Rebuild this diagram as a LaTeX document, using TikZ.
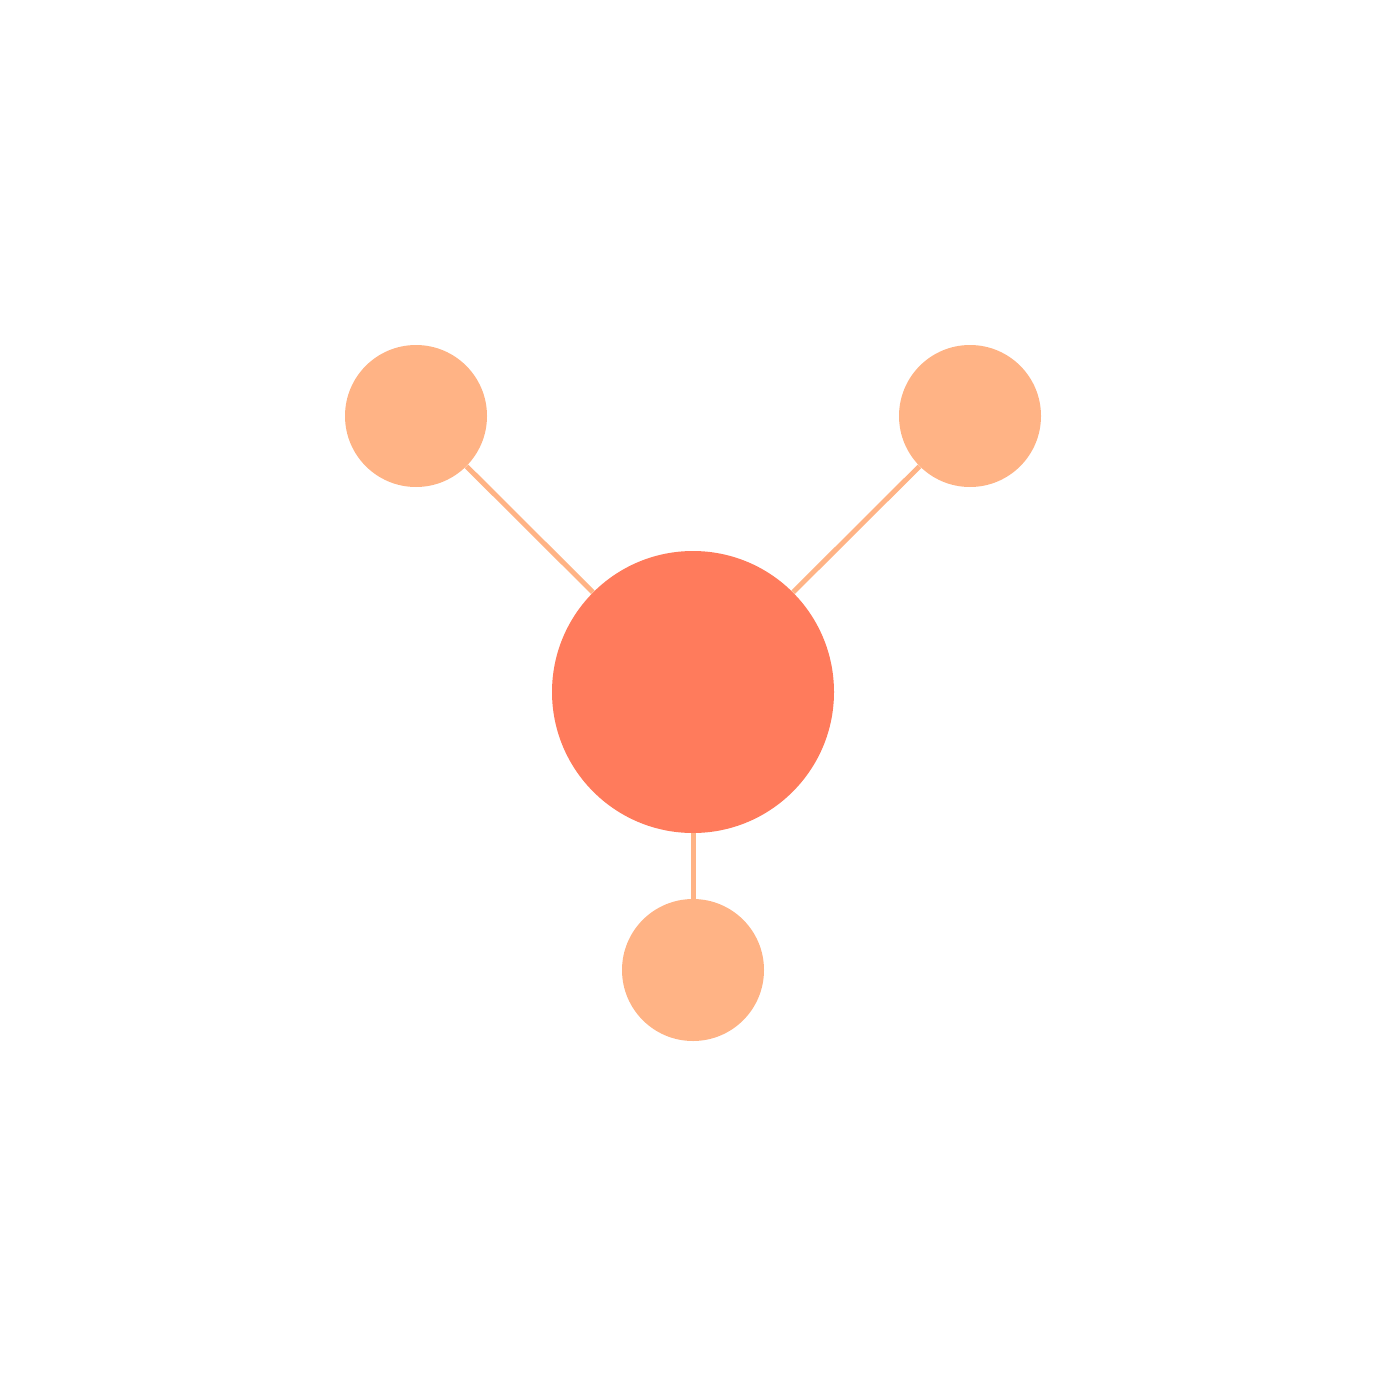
\documentclass[tikz,border=0pt]{standalone}
\definecolor{hub}{HTML}{FF7B5C}
\definecolor{leaf}{HTML}{FFB385}
\begin{document}
\begin{tikzpicture}[x=0.5pt,y=-0.5pt,
  hubnode/.style={circle,fill=hub,draw=none,minimum size=141pt,inner sep=0pt},
  leafnode/.style={circle,fill=leaf,draw=none,minimum size=71pt,inner sep=0pt},
  link/.style={draw=leaf,line width=2.5pt}]
\useasboundingbox (0,0) rectangle (1386,1386);
\node[hubnode] (c) at (693,692) {};
\node[leafnode] (l) at (416,416) {};
\node[leafnode] (r) at (970,416) {};
\node[leafnode] (b) at (693,970) {};
\begin{scope}[on background layer/.try]
\end{scope}
\draw[link] (c) -- (l);
\draw[link] (c) -- (r);
\draw[link] (c) -- (b);
\end{tikzpicture}
\end{document}
